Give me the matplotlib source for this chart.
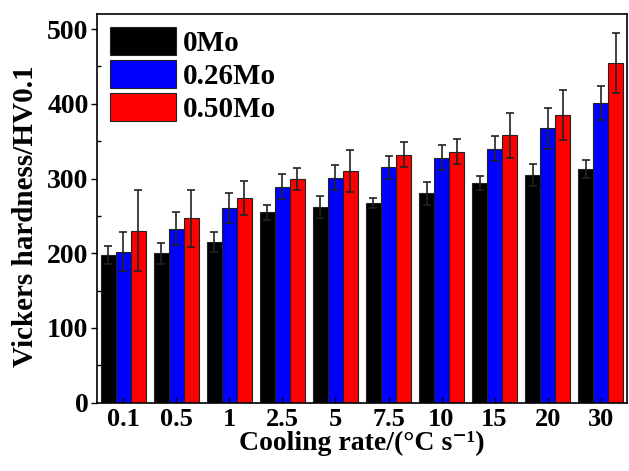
import numpy as np
import matplotlib
matplotlib.use("Agg")
import matplotlib.pyplot as plt
from matplotlib.ticker import MultipleLocator

rates = ["0.1", "0.5", "1", "2.5", "5", "7.5", "10", "15", "20", "30"]
hv_0mo = [198, 200, 215, 255, 262, 267, 280, 294, 305, 313]
err_0mo = [12, 14, 13, 10, 15, 7, 16, 9, 15, 12]
hv_026mo = [202, 233, 261, 289, 301, 315, 328, 340, 367, 401]
err_026mo = [26, 22, 20, 17, 17, 15, 17, 17, 28, 23]
hv_050mo = [230, 247, 274, 299, 310, 332, 336, 358, 385, 455]
err_050mo = [54, 38, 23, 15, 28, 17, 17, 30, 34, 40]

plt.rcParams["font.family"] = ["Liberation Serif", "DejaVu Serif"]
plt.rcParams["font.weight"] = "bold"

fig = plt.figure(figsize=(6.29, 4.71), dpi=100)
ax = fig.add_axes([0.154, 0.145, 0.843, 0.825])

x = np.arange(len(rates))
w = 0.283
series = [(hv_0mo, err_0mo, "#000000", "0Mo"),
          (hv_026mo, err_026mo, "#0000ff", "0.26Mo"),
          (hv_050mo, err_050mo, "#ff0000", "0.50Mo")]
for i, (vals, errs, col, lab) in enumerate(series):
    ax.bar(x + (i - 1) * w, vals, w, color=col, edgecolor="#222222", linewidth=0.8,
           yerr=errs, capsize=3, error_kw=dict(ecolor="#222222", elinewidth=1.2, capthick=1.2),
           label=lab)

ax.set_xlim(-0.5, 9.5)
ax.set_ylim(0, 520)
ax.set_xticks(x)
ax.set_xticklabels(rates)
ax.yaxis.set_major_locator(MultipleLocator(100))
ax.yaxis.set_minor_locator(MultipleLocator(50))
ax.tick_params(axis="y", which="major", direction="out", length=4, width=1, labelsize=20, pad=2)
ax.tick_params(axis="y", which="minor", direction="in", length=3, width=1)
ax.tick_params(axis="x", direction="in", length=4, width=1, labelsize=19, pad=4)
for s in ax.spines.values():
    s.set_linewidth(1.2)

ax.set_ylabel("Vickers hardness/HV0.1", fontsize=21, fontweight="bold")
ax.yaxis.set_label_coords(-0.11, 0.48)
ax.set_xlabel("Cooling rate/(°C s⁻¹)", fontsize=20, fontweight="bold", labelpad=0)

ax.legend(loc="upper left", frameon=False, fontsize=21, handlelength=2.27, handleheight=1.1,
          labelspacing=0.1, handletextpad=0.24, borderaxespad=0.25, borderpad=0.2)

fig.savefig("out.png", dpi=100)
